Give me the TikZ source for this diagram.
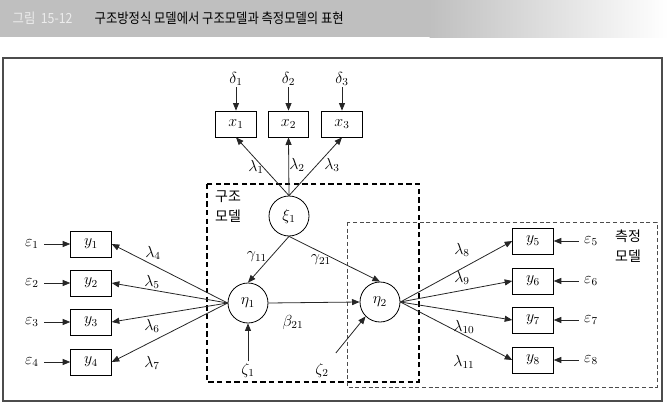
\documentclass[tikz,border=0pt]{standalone}
\usepackage{fontspec}
\setmainfont{Liberation Serif}
\newfontfamily\kor{Noto Sans CJK KR}
\newfontfamily\kortitle[FakeStretch=0.88]{Noto Sans CJK KR}
\usepackage{tikz}
\usetikzlibrary{arrows.meta}

\begin{document}
\begin{tikzpicture}[
    x=0.75pt, y=-0.75pt,
    obs/.style={rectangle, draw, minimum width=30.5pt, minimum height=19.5pt, inner sep=0pt, line width=0.6pt, font=\fontsize{11.5}{13}\selectfont},
    lat/.style={circle, draw, minimum size=30pt, inner sep=0pt, line width=0.6pt, font=\fontsize{11.5}{13}\selectfont},
    lbl/.style={inner sep=1pt, font=\fontsize{11.5}{13}\selectfont},
    arr/.style={-{Triangle[length=2mm, width=1.6mm]}, line width=0.6pt, color=black!85},
    sbox/.style={line width=1.3pt, dash pattern=on 4pt off 2.5pt},
    mbox/.style={line width=0.6pt, dash pattern=on 3pt off 2pt, color=black!70},
    kor/.style={font=\kor\fontsize{10.5}{15}\selectfont, align=left, inner sep=1pt},
]
\useasboundingbox (0,0) rectangle (668,407);

% Title bar
\fill[gray!50] (0,0) rectangle (430,37);
\shade[left color=gray!50, right color=white] (429.5,0) rectangle (668,37);
\node[anchor=west, font=\kortitle\fontsize{10.5}{12}\selectfont, color=gray!15] (fig) at (8,18) {그림\ \ 15-12};
\node[anchor=west, font=\kortitle\fontsize{10.5}{12}\selectfont] (title) at (90,18) {구조방정식 모델에서 구조모델과 측정모델의 표현};

% Frame
\draw[line width=0.9pt, black!70] (3,58) rectangle (662,401);

% Model boxes
\draw[sbox] (207,184) rectangle (419,382);
\draw[mbox] (347,222) rectangle (657,387);
\node[kor] (smodel) at (228,207) {구조\\모델};
\node[kor] (mmodel) at (628,246) {측정\\모델};

% Nodes
\node[obs] (x1) at (236,124) {$x_1$};
\node[obs] (x2) at (288.5,124) {$x_2$};
\node[obs] (x3) at (342,124) {$x_3$};
\node[lbl] (d1) at (236,79) {$\delta_1$};
\node[lbl] (d2) at (288.5,79) {$\delta_2$};
\node[lbl] (d3) at (342,79) {$\delta_3$};

\node[lat] (xi1) at (289,216) {$\xi_1$};
\node[lat] (eta1) at (248,303) {$\eta_1$};
\node[lat] (eta2) at (380,302) {$\eta_2$};
\node[lbl] (z1) at (248,370) {$\zeta_1$};
\node[lbl] (z2) at (322,370) {$\zeta_2$};

\foreach \i/\yy in {1/244, 2/283, 3/322, 4/362} {
  \node[obs] (y\i) at (91,\yy) {$y_\i$};
  \node[lbl] (e\i) at (32,\yy) {$\varepsilon_\i$};
}
\foreach \i/\yy in {5/241, 6/281, 7/320, 8/360} {
  \node[obs] (y\i) at (533,\yy) {$y_\i$};
  \node[lbl] (e\i) at (591,\yy) {$\varepsilon_\i$};
}

% Labels
\node[lbl] (l1) at (256,167) {$\lambda_1$};
\node[lbl] (l2) at (297,165) {$\lambda_2$};
\node[lbl] (l3) at (332,165) {$\lambda_3$};
\node[lbl] (l4) at (153,253) {$\lambda_4$};
\node[lbl] (l5) at (152,282) {$\lambda_5$};
\node[lbl] (l6) at (152,326) {$\lambda_6$};
\node[lbl] (l7) at (152,363) {$\lambda_7$};
\node[lbl] (l8) at (462,250) {$\lambda_8$};
\node[lbl] (l9) at (462,278) {$\lambda_9$};
\node[lbl] (l10) at (464,327) {$\lambda_{10}$};
\node[lbl] (l11) at (464,362) {$\lambda_{11}$};
\node[lbl] (g11) at (257,257) {$\gamma_{11}$};
\node[lbl] (g21) at (321,260) {$\gamma_{21}$};
\node[lbl] (b21) at (293,322) {$\beta_{21}$};

% Arrows
\foreach \i in {1,2,3} {
  \draw[arr] (d\i) -- (x\i.north);
  \draw[arr] (xi1.north) -- (x\i.south);
}
\foreach \i in {1,...,4} {
  \draw[arr, shorten <=3pt] (e\i) -- (y\i.west);
  \draw[arr] (eta1.west) -- (y\i.east);
}
\foreach \i in {5,...,8} {
  \draw[arr, shorten <=3pt] (e\i) -- (y\i.east);
  \draw[arr] (eta2.east) -- (y\i.west);
}
\draw[arr] (xi1.south) -- (eta1.north);
\draw[arr] (xi1.south) -- (eta2.north);
\draw[arr] (eta1.east) -- (eta2.west);
\draw[arr] (z1) -- (eta1.south);
\draw[arr, shorten <=8pt] (z2) -- (eta2.south west);

\end{tikzpicture}
\end{document}
